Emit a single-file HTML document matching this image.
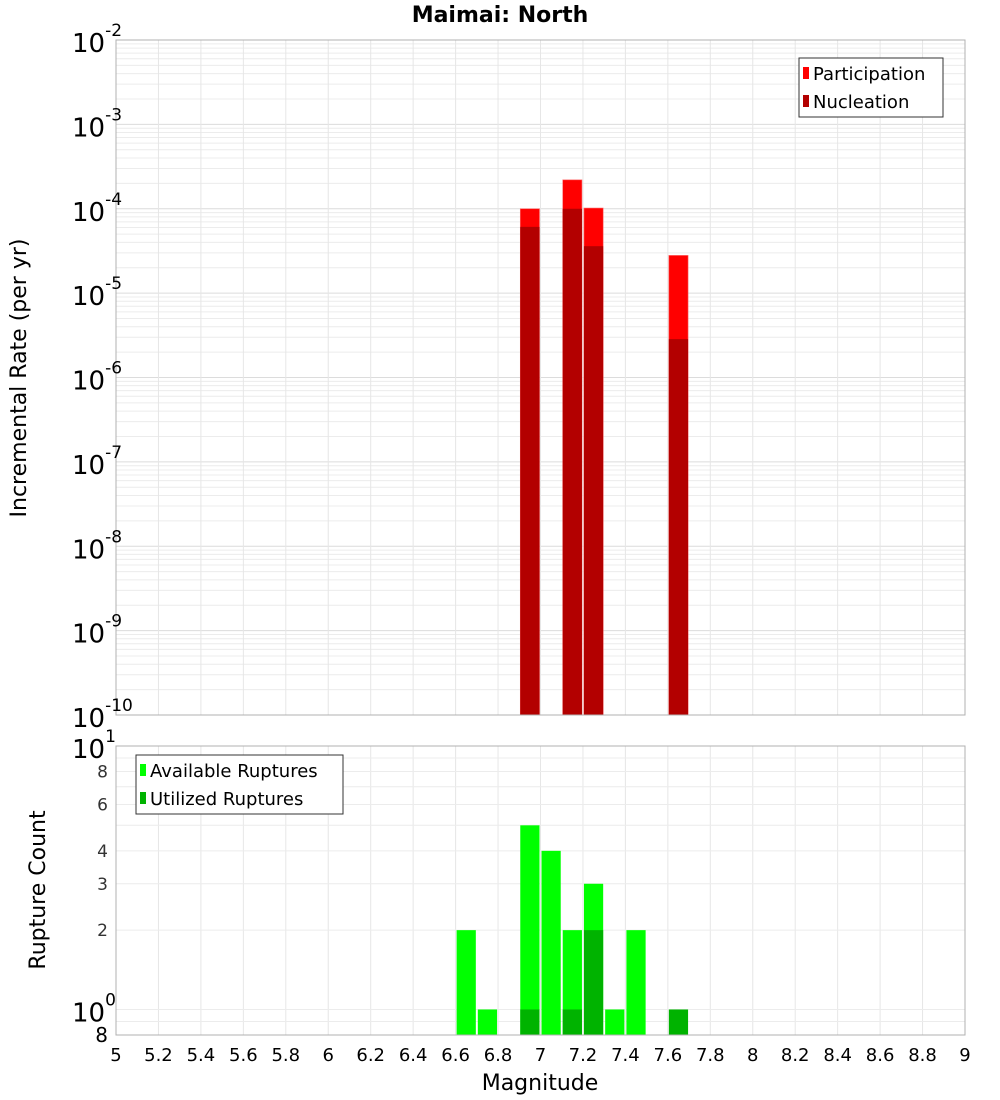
<!DOCTYPE html>
<html><head><meta charset="utf-8"><style>
body{margin:0;background:#fff;}
svg{display:block;font-family:"DejaVu Sans","Liberation Sans",sans-serif;}
</style></head><body>
<svg id="chart" width="1000" height="1100" xmlns="http://www.w3.org/2000/svg">
<text x="500" y="22" text-anchor="middle" font-size="22" font-weight="bold">Maimai: North</text>
<g id="topPlot"></g>
<g id="botPlot"></g>
<text transform="translate(26,378) rotate(-90)" text-anchor="middle" font-size="22">Incremental Rate (per yr)</text>
<text transform="translate(45,890) rotate(-90)" text-anchor="middle" font-size="22">Rupture Count</text>
<text x="540" y="1090" text-anchor="middle" font-size="22">Magnitude</text>
</svg>
<script>
const mags = [6.65,6.75,6.95,7.05,7.15,7.25,7.35,7.45,7.65];
const participation = [0,0,1.0e-4,0,2.2e-4,1.02e-4,0,0,2.8e-5];
const nucleation = [0,0,6.1e-5,0,1.0e-4,3.6e-5,0,0,2.85e-6];
const available = [2,1,5,4,2,3,1,2,0];
const utilized = [0,0,1,0,1,2,0,0,1];
const xTicks = [5,5.2,5.4,5.6,5.8,6,6.2,6.4,6.6,6.8,7,7.2,7.4,7.6,7.8,8,8.2,8.4,8.6,8.8,9];
const topDecades = [-10,-9,-8,-7,-6,-5,-4,-3,-2];
const botTicks = [2,3,4,6,8];

const NS="http://www.w3.org/2000/svg";
const X0=116,X1=965;
const xs=m=>X0+(m-5)/4*(X1-X0);
const T0=40,T1=715;
const yT=v=>T0+(-2-Math.log10(v))/8*(T1-T0);
const B0=746,B1=1035,bmin=Math.log10(0.8);
const yB=v=>B0+(1-Math.log10(v))/(1-bmin)*(B1-B0);
function mk(p,tag,a,txt){const e=document.createElementNS(NS,tag);for(const k in a)e.setAttribute(k,a[k]);if(txt!==undefined)e.textContent=txt;p.appendChild(e);return e;}
const topG=document.getElementById('topPlot'),botG=document.getElementById('botPlot');

for(let d=-10;d<-2;d++){for(let k=1;k<10;k++){const y=yT(k*Math.pow(10,d));const l=mk(topG,'line',{x1:X0,x2:X1,y1:y,y2:y,stroke:k==1?'#dcdcdc':'#ececec','stroke-width':1});

}}
xTicks.forEach(t=>{const l=mk(topG,'line',{x1:xs(t),x2:xs(t),y1:T0,y2:T1,stroke:'#e6e6e6'});


 const l2=mk(botG,'line',{x1:xs(t),x2:xs(t),y1:B0,y2:B1,stroke:'#e6e6e6'});

});
mags.forEach((m,i)=>{
 if(participation[i]>0){const r=mk(topG,'rect',{x:xs(m-0.05)+1,y:yT(participation[i]),width:xs(m+0.05)-xs(m-0.05)-2,height:T1-yT(participation[i]),fill:'#ff0000',stroke:'#ff6a6a','stroke-width':0.6});

}
 if(nucleation[i]>0){const r=mk(topG,'rect',{x:xs(m-0.05)+1,y:yT(nucleation[i]),width:xs(m+0.05)-xs(m-0.05)-2,height:T1-yT(nucleation[i]),fill:'#b30000'});

}
});
const tf=mk(topG,'rect',{x:X0,y:T0,width:X1-X0,height:T1-T0,fill:'none',stroke:'#b0b0b0'});


topDecades.forEach(d=>{const y=yT(Math.pow(10,d));const g=mk(topG,'text',{x:72,y:y+12,'font-size':26});


 g.appendChild(document.createTextNode('10'));mk(g,'tspan',{dy:-16,'font-size':17},String(d));});
const lg=mk(topG,'g',{});


mk(lg,'rect',{x:799,y:58,width:144,height:59,fill:'#fff',stroke:'#333'});
mk(lg,'rect',{x:803,y:67,width:6,height:12,fill:'#ff0000'});
mk(lg,'text',{x:813,y:80,'font-size':18},'Participation');
mk(lg,'rect',{x:803,y:95,width:6,height:12,fill:'#b30000'});
mk(lg,'text',{x:813,y:108,'font-size':18},'Nucleation');

[0.8,0.9,1,2,3,4,5,6,7,8,9].forEach(v=>{const y=yB(v);const l=mk(botG,'line',{x1:X0,x2:X1,y1:y,y2:y,stroke:'#ececec'});

});
mags.forEach((m,i)=>{
 if(available[i]>0){const r=mk(botG,'rect',{x:xs(m-0.05)+1,y:yB(available[i]),width:xs(m+0.05)-xs(m-0.05)-2,height:B1-yB(available[i]),fill:'#00ff00'});

}
 if(utilized[i]>0){const r=mk(botG,'rect',{x:xs(m-0.05)+1,y:yB(utilized[i]),width:xs(m+0.05)-xs(m-0.05)-2,height:B1-yB(utilized[i]),fill:'#00b300'});

}
});
const bf=mk(botG,'rect',{x:X0,y:B0,width:X1-X0,height:B1-B0,fill:'none',stroke:'#b0b0b0'});


botTicks.forEach(v=>{const t=mk(botG,'text',{x:108,y:yB(v)+6,'text-anchor':'end','font-size':17,fill:'#333'},String(v));

});
[[1,'1'],[0,'0']].forEach(([d,s])=>{const y=yB(Math.pow(10,d));const g=mk(botG,'text',{x:72,y:y+12,'font-size':26});


g.appendChild(document.createTextNode('10'));mk(g,'tspan',{dy:-16,'font-size':17},s);});
const e8=mk(botG,'text',{x:108,y:1042,'text-anchor':'end','font-size':20},'8');


xTicks.forEach(t=>{const tx=mk(botG,'text',{x:xs(t),y:1061,'text-anchor':'middle','font-size':18},String(t));

});
const lb=mk(botG,'g',{});


mk(lb,'rect',{x:136,y:755,width:207,height:59,fill:'#fff',stroke:'#333'});
mk(lb,'rect',{x:140,y:764,width:6,height:12,fill:'#00ff00'});
mk(lb,'text',{x:150,y:777,'font-size':18},'Available Ruptures');
mk(lb,'rect',{x:140,y:792,width:6,height:12,fill:'#00b300'});
mk(lb,'text',{x:150,y:805,'font-size':18},'Utilized Ruptures');
</script>
</body></html>
